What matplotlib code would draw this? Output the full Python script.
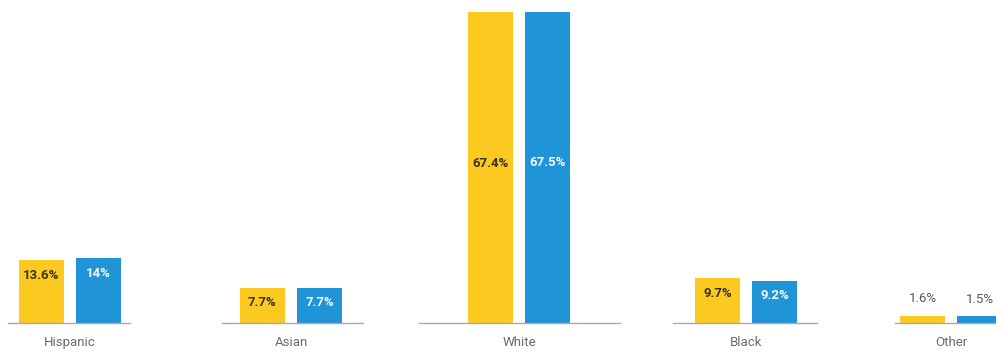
import matplotlib
matplotlib.use("Agg")
import matplotlib.pyplot as plt

plt.rcParams["font.family"] = ["Roboto", "DejaVu Sans"]

# Race / ethnicity shares (%), two series per group
categories = ["Hispanic", "Asian", "White", "Black", "Other"]
series_a = [13.6, 7.7, 67.4, 9.7, 1.6]   # yellow
series_b = [14.0, 7.7, 67.5, 9.2, 1.5]   # blue
labels_a = ["13.6%", "7.7%", "67.4%", "9.7%", "1.6%"]
labels_b = ["14%", "7.7%", "67.5%", "9.2%", "1.5%"]

# Panel layout in pixels: baseline span and group centre
spans = [(8, 130), (222, 363), (419, 620), (673, 817), (895, 1012)]
centres = [70, 291, 519, 746, 951]

YELLOW = "#FBC91F"
BLUE = "#1F95D7"
W, H = 996, 355
base_px = 32          # baseline distance from bottom
plot_h = H - base_px  # axes height in px
unit = 57.0           # px per bar slot
px_per_pct = 311 / 67.5

fig = plt.figure(figsize=(W / 100, H / 100), dpi=100)
fig.patch.set_facecolor("white")

ymax = plot_h / px_per_pct
VAL_FS = 9.5

for name, a, b, la, lb, (L, R), c in zip(categories, series_a, series_b,
                                          labels_a, labels_b, spans, centres):
    ax = fig.add_axes([L / W, base_px / H, (R - L) / W, plot_h / H])
    x0 = c - unit / 2
    ax.set_xlim((L - x0) / unit, (R - x0) / unit)
    ax.set_ylim(0, ymax)
    ax.bar([0, 1], [a, b], width=0.8, color=[YELLOW, BLUE], zorder=2)
    for s in ["top", "left", "right"]:
        ax.spines[s].set_visible(False)
    ax.spines["bottom"].set_color("#a9a9a9")
    ax.spines["bottom"].set_linewidth(1.0)
    ax.set_yticks([])
    ax.set_xticks([0.5], [name])
    ax.tick_params(axis="x", length=0, pad=9.5, labelsize=9.5, labelcolor="#6b6b6b")
    ax.patch.set_alpha(0)

    for xi, v, lab, col in [(0, a, la, "#3a3320"), (1, b, lb, "#f4f8fc")]:
        if v > 30:
            ax.text(xi, v / 2 + 1, lab, ha="center", va="center",
                    fontsize=VAL_FS, color=col, fontweight="bold")
        elif v > 5:
            ax.annotate(lab, (xi, v), xytext=(0, -11), textcoords="offset points",
                        ha="center", va="center", fontsize=VAL_FS, color=col,
                        fontweight="bold")
        else:
            ax.annotate(lab, (xi, v), xytext=(0, 12), textcoords="offset points",
                        ha="center", va="center", fontsize=VAL_FS, color="#555555")

fig.savefig("out.png", dpi=100, facecolor="white")
